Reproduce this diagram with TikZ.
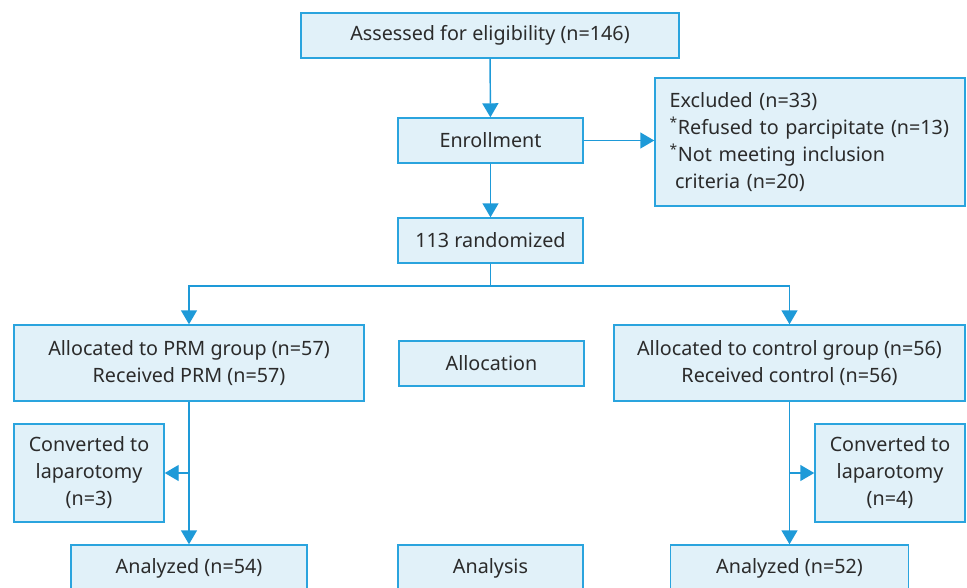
\documentclass[tikz,border=0pt]{standalone}
\usepackage{fontspec}
\setmainfont{Noto Sans}
\usetikzlibrary{arrows.meta}
\definecolor{boxfill}{HTML}{E1F1F9}
\definecolor{boxline}{HTML}{2AA4DE}
\definecolor{arrowc}{HTML}{1E9AD8}
\definecolor{txt}{HTML}{2B2B2B}
\tikzset{
  box/.style={draw=boxline, fill=boxfill, line width=1.1pt, text=txt, inner sep=0pt,
    font=\fontsize{14.8}{20.25}\selectfont, align=center},
  conn/.style={draw=arrowc, line width=1.1pt},
  arr/.style={conn, -{Triangle[length=10.5pt,width=12pt]}},
}
\begin{document}
\begin{tikzpicture}[x=0.75pt,y=-0.75pt]
\useasboundingbox (0,0) rectangle (967,587);
\node[box, minimum width=283.5pt, minimum height=33.75pt] (assess) at (490,35.5) {Assessed for eligibility (n=146)};
\node[box, minimum width=138.75pt, minimum height=33.75pt] (enroll) at (490.5,140.5) {Enrollment};
\node[box, minimum width=232.5pt, minimum height=96pt, align=left, text width=232.5pt] (excl) at (810,142)
  {\hspace*{11pt}Excluded (n=33)\\\hspace*{11pt}\textsuperscript{*}Refused to parcipitate (n=13)\\\hspace*{11pt}\textsuperscript{*}Not meeting inclusion\\\hspace*{11pt}\hspace*{4pt}criteria (n=20)};
\node[box, minimum width=138.75pt, minimum height=33.75pt] (rand) at (490.5,240.5) {113 randomized};
\node[box, minimum width=262.5pt, minimum height=57pt] (prm) at (189,363) {Allocated to PRM group (n=57)\\Received PRM (n=57)};
\node[box, minimum width=138.75pt, minimum height=33.75pt] (alloc) at (491.5,363.5) {Allocation};
\node[box, minimum width=263.25pt, minimum height=57pt] (ctrl) at (789.5,363) {Allocated to control group (n=56)\\Received control (n=56)};
\node[box, minimum width=112.5pt, minimum height=73.5pt] (convL) at (89,473) {Converted to\\laparotomy\\(n=3)};
\node[box, minimum width=112.5pt, minimum height=73.5pt] (convR) at (890,473) {Converted to\\laparotomy\\(n=4)};
\node[box, minimum width=177pt, minimum height=34.5pt] (anL) at (189,568) {Analyzed (n=54)};
\node[box, minimum width=138.75pt, minimum height=34.5pt] (anC) at (490.5,568) {Analysis};
\node[box, minimum width=178.5pt, minimum height=34.5pt] (anR) at (789.5,568) {Analyzed (n=52)};
\coordinate (br) at (490.5,286);
\coordinate (jL) at (prm.south |- convL.east);
\coordinate (jR) at (ctrl.south |- convR.west);
\draw[arr] (assess) -- (enroll);
\draw[arr] (enroll.east) -- (enroll.east -| excl.west);
\draw[arr] (enroll) -- (rand);
\draw[conn] (rand.south) -- (br);
\draw[arr] (br) -| (prm.north);
\draw[arr] (br) -| (ctrl.north);
\draw[arr] (prm.south) -- (prm.south |- anL.north);
\draw[arr] (ctrl.south) -- (ctrl.south |- anR.north);
\draw[arr] (jL) -- (convL.east);
\draw[arr] (jR) -- (convR.west);
\end{tikzpicture}
\end{document}
